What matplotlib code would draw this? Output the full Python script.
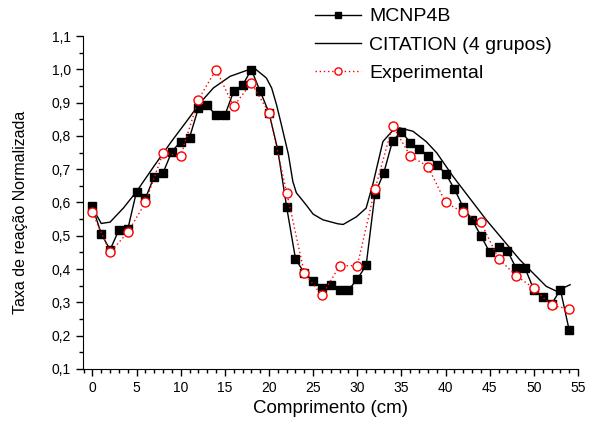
import matplotlib
matplotlib.use("Agg")
import matplotlib.pyplot as plt
from matplotlib.ticker import MultipleLocator, FuncFormatter

plt.rcParams['font.family'] = ['Liberation Sans', 'DejaVu Sans']

# MCNP4B (every 1 cm)
mcnp_x = list(range(0, 55))
mcnp_y = [0.588, 0.506, 0.458, 0.517, 0.519, 0.633, 0.612, 0.678, 0.689, 0.753,
          0.783, 0.795, 0.883, 0.892, 0.862, 0.862, 0.934, 0.952, 0.999, 0.934,
          0.870, 0.757, 0.586, 0.431, 0.388, 0.365, 0.343, 0.353, 0.338, 0.337,
          0.370, 0.411, 0.626, 0.689, 0.786, 0.812, 0.780, 0.761, 0.741, 0.713,
          0.687, 0.640, 0.586, 0.548, 0.500, 0.450, 0.467, 0.455, 0.402, 0.402,
          0.338, 0.316, 0.295, 0.338, 0.216]

# CITATION (4 grupos)
cit_x = [0, 1, 2, 3.5, 5, 7, 9, 10.7, 12.2, 13.7, 15.6, 17.5, 18.5, 19.7, 20.3,
         20.85, 21.4, 22.2, 22.7, 23.1, 24.2, 25, 26.1, 27.8, 28.4, 29.9, 31.0,
         31.8, 32.9, 33.9, 34.8, 36.3, 37.8, 39, 40.85, 44.6, 48.4, 51.4, 52.6,
         53.3, 54.1]
cit_y = [0.585, 0.537, 0.541, 0.583, 0.633, 0.710, 0.785, 0.845, 0.899, 0.944,
         0.979, 0.997, 1.000, 0.974, 0.944, 0.894, 0.834, 0.744, 0.663, 0.629,
         0.593, 0.565, 0.548, 0.536, 0.534, 0.557, 0.583, 0.659, 0.783, 0.813,
         0.824, 0.814, 0.783, 0.749, 0.678, 0.548, 0.428, 0.348, 0.333, 0.343,
         0.353]

# Experimental (every 2 cm)
exp_x = list(range(0, 55, 2))
exp_y = [0.570, 0.450, 0.510, 0.600, 0.749, 0.739, 0.909, 0.999, 0.889, 0.959,
         0.869, 0.630, 0.388, 0.321, 0.410, 0.410, 0.640, 0.831, 0.740, 0.708,
         0.600, 0.570, 0.540, 0.431, 0.380, 0.342, 0.291, 0.280]

fig = plt.figure(figsize=(5.97, 4.29), dpi=100)
ax = fig.add_axes([0.1385, 0.14, 0.969 - 0.1385, 0.916 - 0.14])

l1, = ax.plot(mcnp_x, mcnp_y, color='black', lw=1.0, marker='s', ms=6.0,
              mfc='black', mec='black', label='MCNP4B', zorder=3)
l2, = ax.plot(cit_x, cit_y, color='black', lw=1.0, label='CITATION (4 grupos)', zorder=2)
l3, = ax.plot(exp_x, exp_y, color='red', lw=1.0, ls=(0, (1, 2)), marker='o', ms=6.5,
              mfc='white', mec='red', mew=1.0, label='Experimental', zorder=4)

ax.set_xlim(-1.1, 55.05)
ax.set_ylim(0.1, 1.1)
ax.spines['top'].set_visible(False)
ax.spines['right'].set_visible(False)
ax.xaxis.set_major_locator(MultipleLocator(5))
ax.xaxis.set_minor_locator(MultipleLocator(1))
ax.yaxis.set_major_locator(MultipleLocator(0.1))
ax.yaxis.set_minor_locator(MultipleLocator(0.05))
ax.yaxis.set_major_formatter(FuncFormatter(lambda v, p: f"{v:.1f}".replace('.', ',')))
ax.tick_params(which='major', direction='out', length=5, width=1, labelsize=10)
ax.tick_params(which='minor', direction='out', length=3, width=1)
ax.tick_params(axis='x', which='major', pad=4)

ax.set_xlabel('Comprimento (cm)', fontsize=13.5, labelpad=3)
ax.set_ylabel('Taxa de reação Normalizada', fontsize=11.5)
ax.yaxis.set_label_coords(-0.11, 0.47)

fig.legend(handles=[l1, l2, l3], loc='upper left', bbox_to_anchor=(0.514, 1.0),
           frameon=False, fontsize=14, handlelength=2.4, handletextpad=0.4,
           labelspacing=0.55, borderaxespad=0.0, markerscale=0.8)

fig.savefig('out.png', dpi=100)
